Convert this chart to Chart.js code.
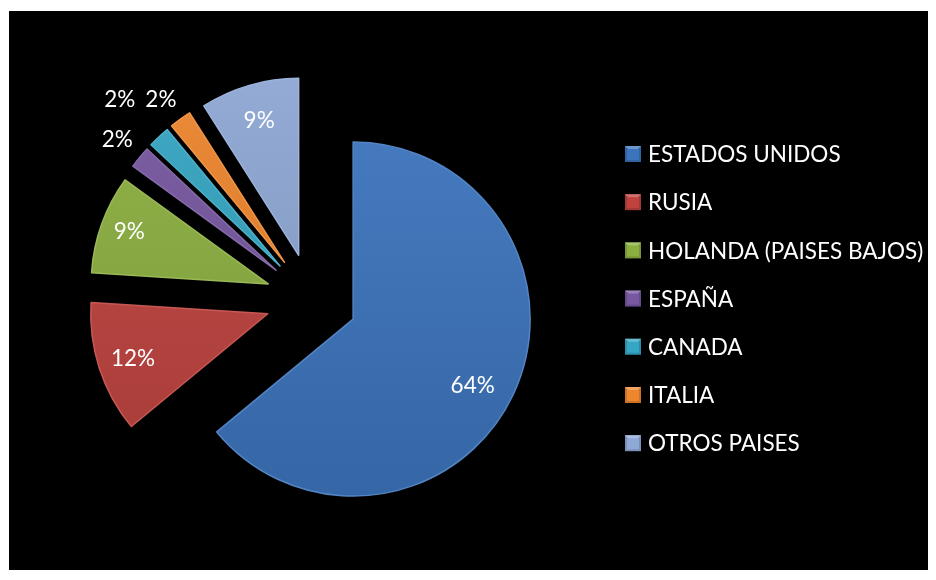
<!DOCTYPE html>
<html><head><meta charset="utf-8">
<script src="https://cdn.jsdelivr.net/npm/chart.js@4.4.1/dist/chart.umd.min.js"></script>
<style>html,body{margin:0;padding:0;background:#fff;overflow:hidden}#wrap{position:absolute;left:0;top:0;width:936px;height:580px}</style>
</head><body><div id="wrap"><canvas id="c" width="936" height="580"></canvas></div>
<script>
// ---- data ----
const categories = ['ESTADOS UNIDOS','RUSIA','HOLANDA (PAISES BAJOS)','ESPAÑA','CANADA','ITALIA','OTROS PAISES'];
const shares = [64, 12, 9, 2, 2, 2, 9];
// ---- styles ----
const sliceColors = ['#3b74bd','#bf423e','#8cb040','#7657a0','#35a6c3','#ee862d','#8fa9d6'];
const labelRadius = [0.77, 0.80, 0.84, 1.165, 1.31, 1.16, 0.80];
const labelAngleShift = [3.5, 0, 1, 0, -0.5, -1, 0]; // degrees
const PIE_RADIUS = 177;
const EXPLODE = 46;
const FONT = '22.5px Lato, "Open Sans", sans-serif';
const PLOT = {left: 9, top: 11, right: 928, bottom: 570};
const LEGEND = {boxX: 625, textX: 648, firstY: 154, gap: 48.2, box: 16};

function shade(hex, amt) {
  const n = parseInt(hex.slice(1), 16);
  let r = (n >> 16) & 255, g = (n >> 8) & 255, b = n & 255;
  const f = c => Math.round(amt >= 0 ? c + (255 - c) * amt : c * (1 + amt));
  return 'rgb(' + f(r) + ',' + f(g) + ',' + f(b) + ')';
}

// explode every slice along its bisector without changing its radius
const baseArcDraw = Chart.ArcElement.prototype.draw;
Chart.ArcElement.prototype.draw = function (ctx) {
  const m = (this.startAngle + this.endAngle) / 2;
  ctx.save();
  ctx.translate(Math.cos(m) * EXPLODE, Math.sin(m) * EXPLODE);
  baseArcDraw.call(this, ctx);
  ctx.restore();
};

const backgroundPlugin = {
  id: 'bg',
  beforeDraw(chart) {
    const c = chart.ctx;
    c.save();
    c.fillStyle = '#ffffff';
    c.fillRect(0, 0, chart.width, chart.height);
    c.fillStyle = '#000000';
    c.fillRect(PLOT.left, PLOT.top, PLOT.right - PLOT.left, PLOT.bottom - PLOT.top);
    c.restore();
  }
};

const labelPlugin = {
  id: 'pctLabels',
  afterDatasetsDraw(chart) {
    const c = chart.ctx;
    const meta = chart.getDatasetMeta(0);
    const total = shares.reduce((a, b) => a + b, 0);
    c.save();
    c.font = FONT;
    c.fillStyle = '#ffffff';
    c.textAlign = 'center';
    c.textBaseline = 'middle';
    meta.data.forEach((arc, i) => {
      const p = arc.getProps(['x', 'y', 'startAngle', 'endAngle', 'outerRadius'], true);
      const mid = (p.startAngle + p.endAngle) / 2;
      const m = mid + labelAngleShift[i] * Math.PI / 180;
      const ex = p.x + Math.cos(mid) * EXPLODE, ey = p.y + Math.sin(mid) * EXPLODE;
      const d = labelRadius[i] * p.outerRadius;
      c.fillText(Math.round(shares[i] / total * 100) + '%', ex + Math.cos(m) * d, ey + Math.sin(m) * d + 1);
    });
    c.restore();
  }
};

const legendPlugin = {
  id: 'sideLegend',
  afterDraw(chart) {
    const c = chart.ctx;
    c.save();
    c.font = FONT;
    c.textBaseline = 'middle';
    c.textAlign = 'left';
    categories.forEach((name, i) => {
      const cy = LEGEND.firstY + i * LEGEND.gap;
      const x = LEGEND.boxX, y = cy - LEGEND.box / 2, s = LEGEND.box;
      const col = sliceColors[i];
      c.fillStyle = shade(col, -0.15);
      c.fillRect(x, y, s, s);
      c.fillStyle = shade(col, 0.25);
      c.beginPath(); c.moveTo(x, y); c.lineTo(x + s, y); c.lineTo(x + s / 2, y + s / 2); c.closePath(); c.fill();
      c.fillStyle = shade(col, 0.0);
      c.fillRect(x + 2, y + 3, s - 4, s - 5);
      c.fillStyle = '#ffffff';
      c.fillText(name, LEGEND.textX, cy + 1);
    });
    c.restore();
  }
};

new Chart(document.getElementById('c'), {
  type: 'pie',
  data: {
    labels: categories,
    datasets: [{
      data: shares,
      backgroundColor: (ctx) => {
        const col = sliceColors[ctx.dataIndex];
        const a = ctx.chart.chartArea;
        if (!a) return col;
        const cy = (a.top + a.bottom) / 2;
        const g = ctx.chart.ctx.createLinearGradient(0, cy - PIE_RADIUS - EXPLODE, 0, cy + PIE_RADIUS + EXPLODE);
        g.addColorStop(0, shade(col, 0.06));
        g.addColorStop(1, shade(col, -0.14));
        return g;
      },
      borderColor: (ctx) => shade(sliceColors[ctx.dataIndex], 0.12),
      borderWidth: 1.5,
      borderJoinStyle: 'round'
    }]
  },
  options: {
    responsive: false,
    animation: false,
    events: [],
    radius: PIE_RADIUS,
    layout: {padding: {left: 0, right: 313, top: 19, bottom: 0}},
    plugins: {legend: {display: false}, tooltip: {enabled: false}}
  },
  plugins: [backgroundPlugin, labelPlugin, legendPlugin]
});
</script>
</body></html>
